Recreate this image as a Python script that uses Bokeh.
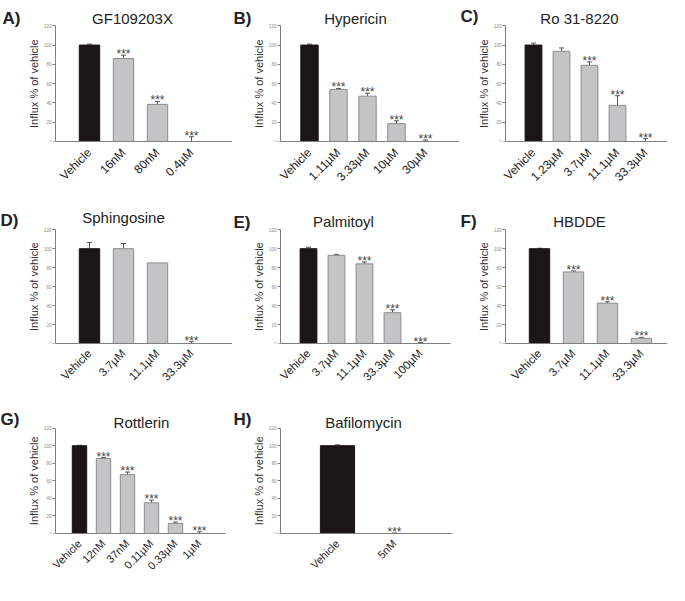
import math
from bokeh.plotting import figure
from bokeh.layouts import column, row
from bokeh.models import Range1d, FixedTicker, Whisker, TeeHead, ColumnDataSource
from bokeh.core.properties import value
from bokeh.embed import file_html
from bokeh.resources import INLINE

FONT = "Liberation Sans"

# ---------------- data ----------------
y_ticks = [0, 20, 40, 60, 80, 100, 120]
y_label = "Influx % of vehicle"

a_name = "GF109203X"
a_cats = ["Vehicle", "16nM", "80nM", "0.4µM"]
a_vals = [100, 86, 38.5, 0]
a_errs = [1, 3.5, 3, 5]
a_sig = [False, True, True, True]

b_name = "Hypericin"
b_cats = ["Vehicle", "1.11µM", "3.33µM", "10µM", "30µM"]
b_vals = [100, 54, 47, 18.5, 0]
b_errs = [1, 1, 3, 3, 1.5]
b_sig = [False, True, True, True, True]

c_name = "Ro 31-8220"
c_cats = ["Vehicle", "1.23µM", "3.7µM", "11.1µM", "33.3µM"]
c_vals = [100, 93.5, 79, 37.5, 0]
c_errs = [2, 3.5, 3.5, 10, 3]
c_sig = [False, False, True, True, True]

d_name = "Sphingosine"
d_cats = ["Vehicle", "3.7µM", "11.1µM", "33.3µM"]
d_vals = [100, 100, 85, 0]
d_errs = [6.5, 5.5, 0, 2]
d_sig = [False, False, False, True]

e_name = "Palmitoyl"
e_cats = ["Vehicle", "3.7µM", "11.1µM", "33.3µM", "100µM"]
e_vals = [100, 93, 84, 32.5, 0]
e_errs = [1.5, 1, 2, 3, 1]
e_sig = [False, False, True, True, True]

f_name = "HBDDE"
f_cats = ["Vehicle", "3.7µM", "11.1µM", "33.3µM"]
f_vals = [100, 75.5, 42.5, 5.5]
f_errs = [0.5, 1, 1.5, 1]
f_sig = [False, True, True, True]

g_name = "Rottlerin"
g_cats = ["Vehicle", "12nM", "37nM", "0.11µM", "0.33µM", "1µM"]
g_vals = [100, 85.5, 67, 35, 11.5, 0]
g_errs = [0.5, 1, 3, 3, 1.5, 2]
g_sig = [False, True, True, True, True, True]

h_name = "Bafilomycin"
h_cats = ["Vehicle", "5nM"]
h_vals = [100, 0]
h_errs = [1, 0.5]
h_sig = [False, True]

# ---------------- layout / style (pixels) ----------------
# W, H, y-axis x, px per category, y of 120, y of 0, x-axis end,
# title dx, title dy, letter dx, letter dy, x-label font, x-label standoff
LAYOUT = {
    "A": (232, 191, 55, 34, 26, 145, 232, 77, 7, -53, 7, "12px", 3),
    "B": (227, 191, 48, 29, 26, 145, 227, 75, 7, -47, 7, "12px", 3),
    "C": (208, 191, 46, 28, 26, 145, 208, 74, 7, -45, 9, "12px", 3),
    "D": (232, 199, 55, 34, 40, 159, 232, 68, 12, -55, 9, "11.5px", 2),
    "E": (227, 199, 48, 28, 40, 159, 218, 63, 8, -47, 7, "11.5px", 2),
    "F": (208, 199, 46, 34, 40, 159, 208, 74, 8, -45, 8, "11.5px", 2),
    "G": (232, 189, 55, 24, 40, 152, 225, 86, 6, -55, 9, "11px", 2),
    "H": (227, 189, 48, 57, 40, 152, 220, 83, 6, -47, 9, "11px", 2),
}
YLABEL_GAP = 22  # px between y-axis line and the centre of its rotated title

DARK = "#1c1515"
GREY = "#c4c4c6"
GREY_EDGE = "#8c8c8c"
AXIS = "#7f7f7f"


def panel(letter, name, cats, vals, errs, sig):
    W, H, ax, sp, y120, y0, xe, tdx, tdy, ldx, ldy, xfs, xso = LAYOUT[letter]
    n = len(cats)
    xs = list(range(1, n + 1))
    sy_ = (y0 - y120) / 120.0
    p = figure(width=W, height=H,
               min_border_left=0, min_border_right=0,
               min_border_top=0, min_border_bottom=H - y0,
               x_range=Range1d(-ax / sp, (W - ax) / sp),
               y_range=Range1d(0, y0 / sy_),
               output_backend="svg", toolbar_location=None)
    p.outline_line_color = None
    p.xgrid.visible = False
    p.ygrid.visible = False
    p.background_fill_color = "white"
    p.border_fill_color = "white"

    fills = [DARK] + [GREY] * (n - 1)
    edges = [DARK] + [GREY_EDGE] * (n - 1)
    src = ColumnDataSource(dict(x=xs, top=vals, fill=fills, edge=edges))
    p.vbar(x="x", top="top", width=0.6, bottom=0, fill_color="fill",
           line_color="edge", line_width=1, source=src)

    ex = [x for x, e in zip(xs, errs) if e > 0]
    elo = [v for v, e in zip(vals, errs) if e > 0]
    ehi = [v + e for v, e in zip(vals, errs) if e > 0]
    esrc = ColumnDataSource(dict(x=ex, lower=elo, upper=ehi))
    w = Whisker(source=esrc, base="x", lower="lower", upper="upper",
                line_color="#555555", line_width=1,
                upper_head=TeeHead(size=5, line_color="#555555", line_width=1),
                lower_head=None)
    p.add_layout(w)

    sx = [x for x, s in zip(xs, sig) if s]
    sy = [v + e for v, e, s in zip(vals, errs, sig) if s]
    p.text(x=sx, y=sy, text=["***"] * len(sx), text_align="center",
           text_baseline="alphabetic", text_font_size="12px",
           text_font=value(FONT), text_color="#444444", y_offset=-1)

    # title and panel letter (inside the frame, above the axis top)
    p.text(x=[0], y=[120], text=[name], x_offset=tdx, y_offset=-tdy,
           text_align="center", text_baseline="alphabetic",
           text_font=value(FONT), text_font_size="15px", text_color="#222222")
    p.text(x=[0], y=[120], text=[letter + ")"], x_offset=ldx, y_offset=-ldy,
           text_align="left", text_baseline="alphabetic",
           text_font=value(FONT), text_font_size="17px", text_font_style="bold",
           text_color="#222222")
    # y-axis title, centred on the 0-120 axis
    p.text(x=[-YLABEL_GAP / sp], y=[60], text=[y_label], angle=math.pi / 2,
           text_align="center", text_baseline="middle",
           text_font=value(FONT), text_font_size="11px", text_color="#333333")

    # axes
    xa = p.xaxis[0]
    xa.bounds = (0, (xe - ax) / sp)
    xa.ticker = FixedTicker(ticks=xs)
    xa.major_label_overrides = {x: c for x, c in zip(xs, cats)}
    xa.major_label_orientation = math.pi / 4
    xa.major_label_text_font = FONT
    xa.major_label_text_font_size = xfs
    xa.major_label_text_color = "#222222"
    xa.major_label_standoff = xso
    xa.major_tick_line_color = None
    xa.minor_tick_line_color = None
    xa.axis_line_color = AXIS

    ya = p.yaxis[0]
    ya.fixed_location = 0
    ya.bounds = (0, 120)
    ya.ticker = FixedTicker(ticks=y_ticks)
    ya.major_tick_out = 3
    ya.major_tick_in = 0
    ya.major_tick_line_color = AXIS
    ya.minor_tick_line_color = None
    ya.axis_line_color = AXIS
    ya.major_label_text_font = FONT
    ya.major_label_text_font_size = "4.5px"
    ya.major_label_text_color = "#888888"
    ya.major_label_standoff = 1
    return p


pa = panel("A", a_name, a_cats, a_vals, a_errs, a_sig)
pb = panel("B", b_name, b_cats, b_vals, b_errs, b_sig)
pc = panel("C", c_name, c_cats, c_vals, c_errs, c_sig)
pd_ = panel("D", d_name, d_cats, d_vals, d_errs, d_sig)
pe = panel("E", e_name, e_cats, e_vals, e_errs, e_sig)
pf = panel("F", f_name, f_cats, f_vals, f_errs, f_sig)
pg = panel("G", g_name, g_cats, g_vals, g_errs, g_sig)
ph = panel("H", h_name, h_cats, h_vals, h_errs, h_sig)

layout = column(row(pa, pb, pc), row(pd_, pe, pf), row(pg, ph))

open("out.html", "w").write(file_html(layout, INLINE))
